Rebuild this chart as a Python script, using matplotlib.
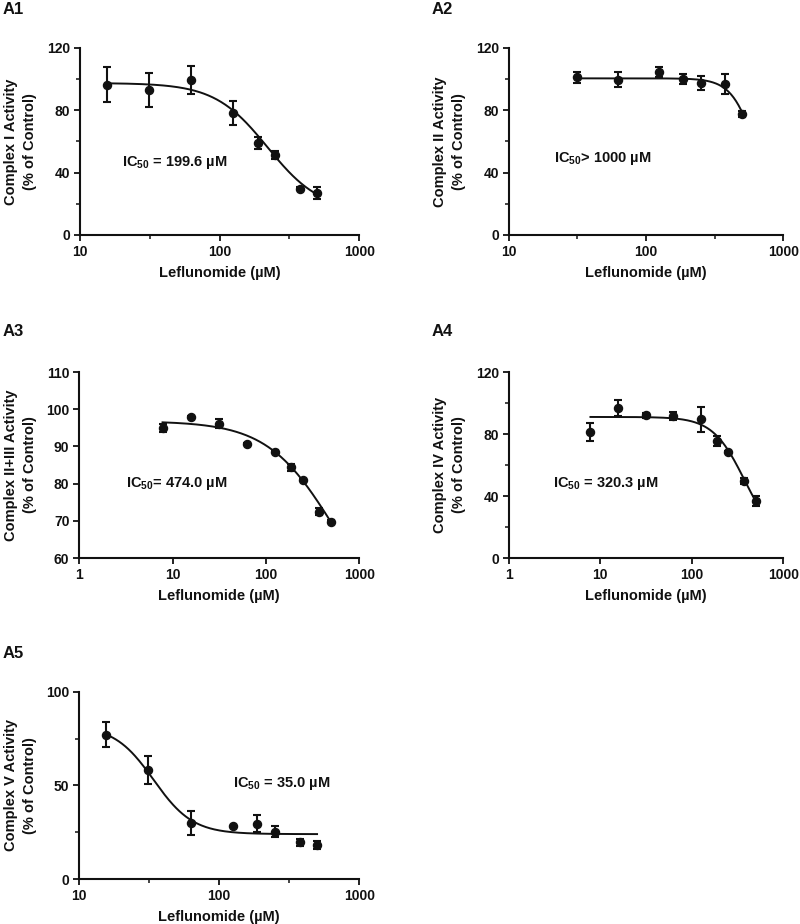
import numpy as np
import matplotlib
matplotlib.use("Agg")
import matplotlib.pyplot as plt
from matplotlib.ticker import FixedLocator, NullFormatter

plt.rcParams['font.family'] = ['Liberation Sans', 'DejaVu Sans']
plt.rcParams['font.weight'] = 'bold'
plt.rcParams['mathtext.fontset'] = 'custom'
plt.rcParams['mathtext.rm'] = 'Liberation Sans'
plt.rcParams['mathtext.bf'] = 'Liberation Sans:bold'

# Leflunomide doses (uM)
dose_hi = [15.625, 31.25, 62.5, 125, 187.5, 250, 375, 500]
dose_a2 = [31.25, 62.5, 125, 187.5, 250, 375, 500]
dose_lo = [7.8125, 15.625, 31.25, 62.5, 125, 187.5, 250, 375, 500]

# A1 Complex I
a1_mean = [96.5, 93.2, 99.6, 78.2, 58.9, 51.5, 29.8, 26.8]
a1_err = [11.0, 11.0, 9.0, 7.7, 4.0, 2.5, 1.0, 3.7]
# A2 Complex II
a2_mean = [101.1, 99.6, 104.4, 100.1, 97.5, 96.9, 77.4]
a2_err = [3.4, 4.7, 3.3, 3.4, 4.6, 6.4, 2.0]
# A3 Complex II+III
a3_mean = [95.0, 97.9, 96.1, 90.7, 88.6, 84.4, 80.9, 72.5, 69.8]
a3_err = [1.1, 0.3, 1.2, 0.3, 0.3, 1.0, 0.3, 1.0, 0.3]
# A4 Complex IV
a4_mean = [81.2, 96.9, 92.0, 91.6, 89.4, 75.6, 68.5, 49.5, 36.8]
a4_err = [5.6, 5.2, 1.5, 2.8, 8.0, 3.3, 0.8, 2.0, 3.3]
# A5 Complex V
a5_mean = [77.2, 58.3, 29.9, 28.2, 29.6, 25.3, 19.6, 18.0]
a5_err = [6.8, 7.4, 6.6, 0.3, 4.5, 3.0, 1.8, 2.2]

# fitted 4PL parameters: top, bottom, ec50, hill
a1_fit = [97.5, 15.0, 220.6, 2.29]
a2_fit = [100.5, 0.0, 657.0, 4.77]
a3_fit = [96.8, 40.0, 536.0, 1.216]
a4_fit = [91.0, 10.0, 376.0, 2.5]
a5_fit = [82.0, 24.0, 34.0, 3.1]

ink = '#111111'
W, H = 800, 924


def four_pl(x, p):
    top, bottom, ec50, hill = p
    return bottom + (top - bottom) / (1 + (x / ec50) ** hill)


def panel(rect, tag, tag_xy, dose, mean, err, fit, ylabel, ylim, yticks,
          yminor, xlim, xmajor, xminor, ic_text, ic_pos):
    ax = fig.add_axes(rect)
    ax.set_xscale('log')
    xx = np.logspace(np.log10(dose[0]), np.log10(dose[-1]), 200)
    ax.plot(xx, four_pl(xx, fit), color=ink, lw=1.4, zorder=2)
    ax.errorbar(dose, mean, yerr=err, fmt='o', color=ink, ms=5.8,
                elinewidth=1.5, capsize=3, capthick=1.5, zorder=3)
    ax.set_xlim(xlim)
    ax.set_ylim(ylim)
    ax.xaxis.set_major_locator(FixedLocator(xmajor))
    ax.set_xticklabels([str(v) for v in xmajor])
    ax.xaxis.set_minor_locator(FixedLocator(xminor))
    ax.xaxis.set_minor_formatter(NullFormatter())
    ax.set_yticks(yticks)
    ax.yaxis.set_minor_locator(FixedLocator(yminor))
    for s in ['top', 'right']:
        ax.spines[s].set_visible(False)
    for s in ['left', 'bottom']:
        ax.spines[s].set_linewidth(1.5)
        ax.spines[s].set_color(ink)
    ax.tick_params(which='major', length=4, width=1.3, labelsize=10,
                   colors=ink, pad=3)
    ax.tick_params(which='minor', length=3, width=1.1, colors=ink)
    ax.set_xlabel('Leflunomide (\u00b5M)', fontsize=10.5, fontweight='bold',
                  color=ink, labelpad=5)
    ax.set_ylabel(ylabel, fontsize=10.5, fontweight='bold', color=ink,
                  labelpad=7, linespacing=1.45)
    ax.text(ic_pos[0], ic_pos[1], ic_text, transform=ax.transAxes,
            fontsize=10.5, fontweight='bold', color=ink, va='center')
    fig.text(tag_xy[0] / W, 1 - tag_xy[1] / H, tag, fontsize=12,
             fontweight='bold', color=ink, va='center', ha='left')
    return ax


fig = plt.figure(figsize=(8, 9.24), dpi=100)

panel([0.1, 0.7457, 0.349, 0.2024], 'A1', (3, 10), dose_hi, a1_mean, a1_err,
      a1_fit, 'Complex I Activity\n(% of Control)', (0, 120),
      [0, 40, 80, 120], [20, 60, 100], (10, 1000), [10, 100, 1000],
      [10 ** 1.5, 10 ** 2.5], 'IC$_{50}$ = 199.6 \u00b5M', (0.15, 0.385))
panel([0.636, 0.7457, 0.343, 0.2024], 'A2', (432, 10), dose_a2, a2_mean,
      a2_err, a2_fit, 'Complex II Activity\n(% of Control)', (0, 120),
      [0, 40, 80, 120], [20, 60, 100], (10, 1000), [10, 100, 1000],
      [10 ** 1.5, 10 ** 2.5], 'IC$_{50}$> 1000 \u00b5M', (0.164, 0.41))
panel([0.099, 0.3961, 0.35, 0.2013], 'A3', (3, 331), dose_lo, a3_mean,
      a3_err, a3_fit, 'Complex II+III Activity\n(% of Control)', (60, 110),
      [60, 70, 80, 90, 100, 110], [], (1, 1000), [1, 10, 100, 1000], [],
      'IC$_{50}$= 474.0 \u00b5M', (0.168, 0.40))
panel([0.636, 0.3961, 0.343, 0.2013], 'A4', (432, 331), dose_lo, a4_mean,
      a4_err, a4_fit, 'Complex IV Activity\n(% of Control)', (0, 120),
      [0, 40, 80, 120], [20, 60, 100], (1, 1000), [1, 10, 100, 1000], [],
      'IC$_{50}$ = 320.3 \u00b5M', (0.162, 0.40))
panel([0.099, 0.0487, 0.35, 0.2024], 'A5', (3, 653), dose_hi, a5_mean,
      a5_err, a5_fit, 'Complex V Activity\n(% of Control)', (0, 100),
      [0, 50, 100], [25, 75], (10, 1000), [10, 100, 1000],
      [10 ** 1.5, 10 ** 2.5], 'IC$_{50}$ = 35.0 \u00b5M', (0.55, 0.51))

fig.savefig('out.png', dpi=100, facecolor='white')
